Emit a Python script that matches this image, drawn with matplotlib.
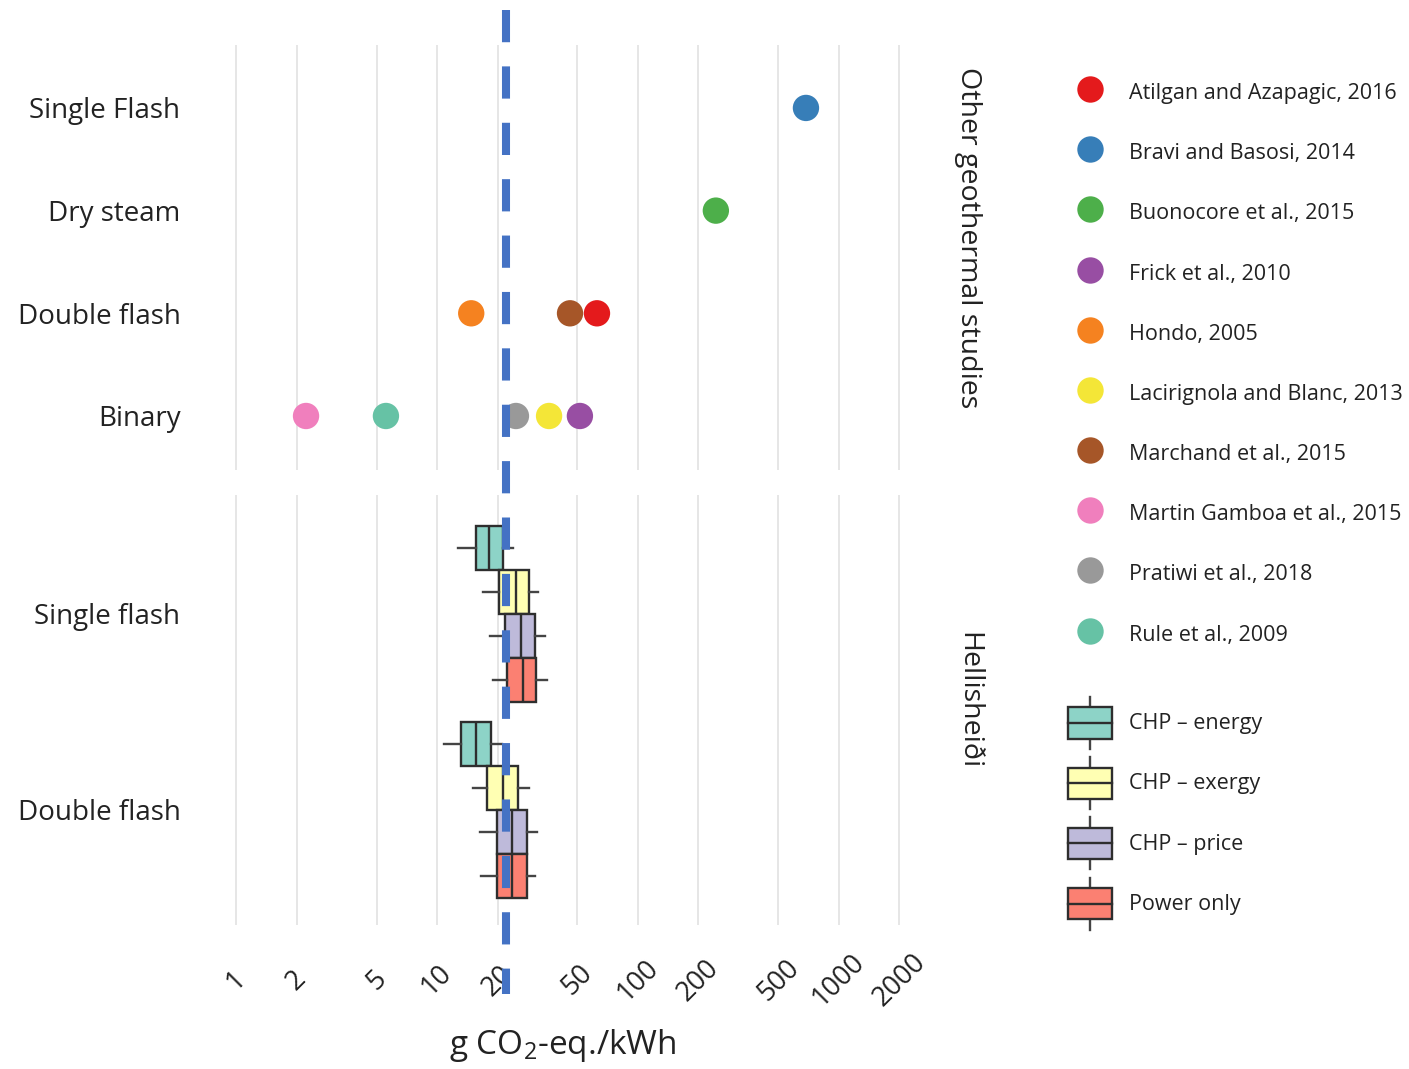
import matplotlib
matplotlib.use('Agg')
import matplotlib.pyplot as plt
from matplotlib.lines import Line2D
from matplotlib.patches import Rectangle
from matplotlib.legend_handler import HandlerBase
from matplotlib.transforms import blended_transform_factory
from matplotlib.ticker import FixedLocator, NullLocator

FONT = 'Open Sans'
plt.rcParams['font.family'] = [FONT, 'DejaVu Sans']
plt.rcParams['mathtext.fontset'] = 'custom'
plt.rcParams['mathtext.rm'] = FONT
plt.rcParams['mathtext.it'] = FONT + ':italic'

# ---------------- data ----------------
other_categories = ['Single Flash', 'Dry steam', 'Double flash', 'Binary']
studies = ['Atilgan and Azapagic, 2016', 'Bravi and Basosi, 2014',
           'Buonocore et al., 2015', 'Frick et al., 2010', 'Hondo, 2005',
           'Lacirignola and Blanc, 2013', 'Marchand et al., 2015',
           'Martin Gamboa et al., 2015', 'Pratiwi et al., 2018',
           'Rule et al., 2009']
study_colors = ['#e41a1c', '#377eb8', '#4daf4a', '#984ea3', '#f58220',
                '#f4e637', '#a65628', '#f07fbd', '#999999', '#66c2a5']
study_category = ['Double flash', 'Single Flash', 'Dry steam', 'Binary',
                  'Double flash', 'Binary', 'Double flash', 'Binary',
                  'Binary', 'Binary']
study_value = [62.5, 685, 244, 51.4, 14.8, 36.1, 45.9, 2.23, 24.7, 5.57]

hell_categories = ['Single flash', 'Double flash']
scenarios = ['CHP \u2013 energy', 'CHP \u2013 exergy', 'CHP \u2013 price', 'Power only']
scenario_colors = ['#8DD3C7', '#FFFFB3', '#BEBADA', '#FB8072']
# five-number summaries: whisker low, Q1, median, Q3, whisker high
single_flash_stats = [[12.7, 15.6, 18.2, 21.3, 23.9],
                      [16.9, 20.3, 24.7, 28.7, 31.8],
                      [18.4, 21.8, 26.2, 30.7, 34.5],
                      [19.0, 22.3, 26.8, 31.1, 35.3]]
double_flash_stats = [[10.8, 13.2, 15.6, 18.6, 21.1],
                      [15.1, 17.7, 21.3, 25.3, 28.7],
                      [16.4, 19.9, 23.6, 28.0, 31.4],
                      [16.5, 19.9, 23.6, 28.0, 30.7]]

x_ticks = [1, 2, 5, 10, 20, 50, 100, 200, 500, 1000, 2000]
x_tick_labels = [str(t) for t in x_ticks]
threshold = 22

# ---------------- figure ----------------
W, H = 1409, 1069
fig = plt.figure(figsize=(W / 100, H / 100), dpi=100)

def px_axes(left, top, right, bottom):
    return fig.add_axes([left / W, 1 - bottom / H, (right - left) / W, (bottom - top) / H])

ax_top = px_axes(195, 45, 930, 470)
ax_bot = px_axes(195, 495, 930, 925)

edge = '#2e2e2e'
grid_c = '#e6e6e6'
txt_c = '#222222'

for ax in (ax_top, ax_bot):
    ax.set_xscale('log')
    ax.set_xlim(0.625, 2837)
    ax.xaxis.set_major_locator(FixedLocator(x_ticks))
    ax.xaxis.set_minor_locator(NullLocator())
    ax.grid(axis='x', color=grid_c, lw=1.4)
    ax.set_axisbelow(True)
    for s in ax.spines.values():
        s.set_visible(False)
    ax.tick_params(axis='both', length=0)
    ax.tick_params(axis='y', labelsize=20, pad=10.5, labelcolor=txt_c)

# top panel: points
ax_top.set_ylim(3.526, -0.613)
ax_top.set_yticks(range(len(other_categories)))
ax_top.set_yticklabels(other_categories)
ax_top.tick_params(axis='x', labelbottom=False)
for name, col, cat, val in zip(studies, study_colors, study_category, study_value):
    ax_top.scatter([val], [other_categories.index(cat)], s=360, color=col,
                   edgecolors='none', zorder=3)

# bottom panel: boxplots
ax_bot.set_ylim(1.587, -0.607)
ax_bot.set_yticks(range(len(hell_categories)))
ax_bot.set_yticklabels(hell_categories)
box_w = 0.225
offsets = [-1.5 * box_w, -0.5 * box_w, 0.5 * box_w, 1.5 * box_w]
for ci, stats_all in enumerate([single_flash_stats, double_flash_stats]):
    for si, st in enumerate(stats_all):
        d = dict(whislo=st[0], q1=st[1], med=st[2], q3=st[3], whishi=st[4], fliers=[])
        kw = dict(positions=[ci + offsets[si]], widths=box_w, showcaps=False,
                  patch_artist=True, manage_ticks=False,
                  boxprops=dict(facecolor=scenario_colors[si], edgecolor=edge, lw=1.7),
                  medianprops=dict(color=edge, lw=1.7),
                  whiskerprops=dict(color='#444444', lw=1.7))
        try:
            ax_bot.bxp([d], orientation='horizontal', **kw)
        except TypeError:
            ax_bot.bxp([d], vert=False, **kw)
ax_bot.set_xticklabels(x_tick_labels)
ax_bot.tick_params(axis='x', labelsize=19.5, pad=40, labelcolor=txt_c)
for lab in ax_bot.get_xticklabels():
    lab.set_rotation(45)
    lab.set_ha('center')
    lab.set_va('center')

ax_bot.set_xlabel(r'g CO$_2$-eq./kWh', fontsize=24, color=txt_c)
ax_bot.xaxis.set_label_coords(0.5, -(1045 - 925) / 430)
ax_bot.xaxis.label.set_va('center')

# facet strips
ax_top.text(1.052, 0.546, 'Other geothermal studies', transform=ax_top.transAxes,
            rotation=-90, ha='center', va='center', fontsize=20.5, color=txt_c)
ax_bot.text(1.052, 0.523, 'Hellishei\u00f0i', transform=ax_bot.transAxes,
            rotation=-90, ha='center', va='center', fontsize=20.5, color=txt_c)

# threshold dashed line across the whole figure
tr = blended_transform_factory(ax_bot.transData, fig.transFigure)
fig.add_artist(Line2D([threshold, threshold], [1 - 10 / H, 1 - 994 / H], transform=tr,
                      color='#4472C4', lw=5.8, dashes=(4, 3), zorder=10,
                      solid_capstyle='butt', dash_capstyle='butt'))

# ---------------- legends ----------------
class BoxHandler(HandlerBase):
    def create_artists(self, legend, orig_handle, xdescent, ydescent, width, height,
                       fontsize, trans):
        fc = orig_handle.get_facecolor()
        x0, y0 = -xdescent, -ydescent
        bh = height * 0.6
        by = y0 + (height - bh) / 2
        cx = x0 + width / 2
        w1 = Line2D([cx, cx], [y0, by], color='#444444', lw=1.7, transform=trans)
        w2 = Line2D([cx, cx], [by + bh, y0 + height], color='#444444', lw=1.7, transform=trans)
        rect = Rectangle((x0, by), width, bh, facecolor=fc, edgecolor=edge, lw=1.7,
                         transform=trans)
        med = Line2D([x0, x0 + width], [by + bh / 2] * 2, color=edge, lw=1.7,
                     transform=trans)
        return [w1, w2, rect, med]

leg_fs = 15.5
pt_handles = [Line2D([], [], marker='o', ls='', markersize=19, color=c, markeredgewidth=0)
              for c in study_colors]
leg1 = fig.legend(pt_handles, studies, loc='upper left', bbox_to_anchor=(1068 / W, 1 - 78.9 / H),
                  frameon=False, fontsize=leg_fs, handlelength=2.06, handleheight=1.5,
                  labelspacing=1.575, handletextpad=0.77, borderpad=0, borderaxespad=0,
                  labelcolor=txt_c)
box_handles = [Rectangle((0, 0), 1, 1, facecolor=c) for c in scenario_colors]
leg2 = fig.legend(box_handles, scenarios, loc='upper left', bbox_to_anchor=(1068 / W, 1 - 697 / H),
                  frameon=False, fontsize=leg_fs, handlelength=2.06, handleheight=3.34,
                  labelspacing=0.38, handletextpad=0.77, borderpad=0, borderaxespad=0,
                  labelcolor=txt_c, handler_map={Rectangle: BoxHandler()})

fig.savefig('out.png', dpi=100)
